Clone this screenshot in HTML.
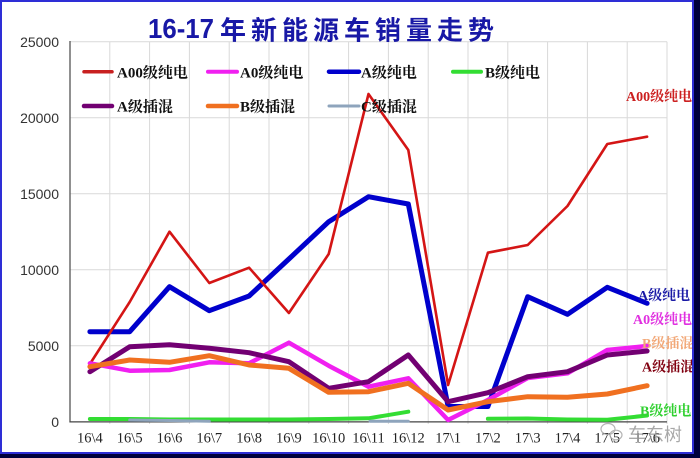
<!DOCTYPE html>
<html>
<head>
<meta charset="utf-8">
<style>
  html,body{margin:0;padding:0;background:#fff;}
  svg{display:block;}
  .yl{font-family:"Liberation Sans","Noto Sans CJK SC",sans-serif;font-size:14px;fill:#333;}
  .xl{font-family:"Liberation Serif","Noto Serif CJK SC",serif;font-size:14.5px;fill:#222;}
  .lg{font-family:"Liberation Serif","Noto Serif CJK SC",serif;font-size:15px;font-weight:bold;fill:#111;}
  .rl{font-family:"Liberation Serif","Noto Serif CJK SC",serif;font-size:14px;font-weight:bold;}
  .tt{font-family:"Liberation Sans","Noto Sans CJK SC",sans-serif;font-weight:bold;fill:#1818a6;}
</style>
</head>
<body>
<svg width="700" height="458" viewBox="0 0 700 458" xmlns="http://www.w3.org/2000/svg">
  <rect x="0" y="0" width="700" height="458" fill="#ffffff"/>

  <!-- gridlines -->
  <g stroke="#d9d9d9" stroke-width="1" fill="none">
    <line x1="70" y1="41.7" x2="667" y2="41.7"/>
    <line x1="70" y1="117.7" x2="667" y2="117.7"/>
    <line x1="70" y1="193.7" x2="667" y2="193.7"/>
    <line x1="70" y1="269.7" x2="667" y2="269.7"/>
    <line x1="70" y1="345.7" x2="667" y2="345.7"/>
    <line x1="109.8" y1="41.7" x2="109.8" y2="424"/>
    <line x1="149.6" y1="41.7" x2="149.6" y2="424"/>
    <line x1="189.4" y1="41.7" x2="189.4" y2="424"/>
    <line x1="229.2" y1="41.7" x2="229.2" y2="424"/>
    <line x1="269" y1="41.7" x2="269" y2="424"/>
    <line x1="308.8" y1="41.7" x2="308.8" y2="424"/>
    <line x1="348.6" y1="41.7" x2="348.6" y2="424"/>
    <line x1="388.4" y1="41.7" x2="388.4" y2="424"/>
    <line x1="428.2" y1="41.7" x2="428.2" y2="424"/>
    <line x1="468" y1="41.7" x2="468" y2="424"/>
    <line x1="507.8" y1="41.7" x2="507.8" y2="424"/>
    <line x1="547.6" y1="41.7" x2="547.6" y2="424"/>
    <line x1="587.4" y1="41.7" x2="587.4" y2="424"/>
    <line x1="627.2" y1="41.7" x2="627.2" y2="424"/>
    <line x1="667" y1="41.7" x2="667" y2="424"/>
  </g>
  <!-- axes -->
  <line x1="70" y1="41" x2="70" y2="422.5" stroke="#555" stroke-width="1.3"/>
  <line x1="69.5" y1="421.9" x2="667" y2="421.9" stroke="#444" stroke-width="1.3"/>

  <!-- y labels -->
  <g class="yl" text-anchor="end">
    <text x="59" y="47">25000</text>
    <text x="59" y="123">20000</text>
    <text x="59" y="199">15000</text>
    <text x="59" y="275">10000</text>
    <text x="59" y="351">5000</text>
    <text x="59" y="427">0</text>
  </g>

  <!-- x labels -->
  <g class="xl" text-anchor="middle">
    <text x="89.9" y="442.5">16\4</text>
    <text x="129.7" y="442.5">16\5</text>
    <text x="169.5" y="442.5">16\6</text>
    <text x="209.3" y="442.5">16\7</text>
    <text x="249.1" y="442.5">16\8</text>
    <text x="288.9" y="442.5">16\9</text>
    <text x="328.7" y="442.5">16\10</text>
    <text x="368.5" y="442.5">16\11</text>
    <text x="408.3" y="442.5">16\12</text>
    <text x="448.1" y="442.5">17\1</text>
    <text x="487.9" y="442.5">17\2</text>
    <text x="527.7" y="442.5">17\3</text>
    <text x="567.5" y="442.5">17\4</text>
    <text x="607.3" y="442.5">17\5</text>
    <text x="647.1" y="442.5">17\6</text>
  </g>

  <!-- series -->
  <g fill="none" stroke-linejoin="round" stroke-linecap="round">
    <!-- A级纯电 blue -->
    <polyline stroke="#0000cc" stroke-width="5" points="89.9,331.7 129.7,331.7 169.5,286.7 209.3,310.7 249.1,296 288.9,259 328.7,221.7 368.5,196.7 408.3,204 448.1,406.5 487.9,406.5 527.7,296.7 567.5,314.3 607.3,287.3 647.1,303.3"/>
    <!-- A00级纯电 red -->
    <polyline stroke="#d41515" stroke-width="2.6" points="89.9,364 129.7,302 169.5,231.7 209.3,283 249.1,267.7 288.9,313 328.7,254 368.5,94 408.3,150 448.1,385 487.9,252.7 527.7,245 567.5,206 607.3,144 647.1,136.7"/>
    <!-- B级纯电 green -->
    <polyline stroke="#33dd33" stroke-width="4" points="89.9,419 129.7,419 169.5,419.5 209.3,419.5 249.1,419.5 288.9,419.5 328.7,419 368.5,418.3 408.3,411.7"/>
    <polyline stroke="#33dd33" stroke-width="4" points="487.9,418.8 527.7,418.5 567.5,419.5 607.3,419.8 647.1,415.5"/>
    <!-- A0级纯电 magenta -->
    <polyline stroke="#f020f0" stroke-width="4.5" points="89.9,363.3 129.7,370.7 169.5,370 209.3,362.3 249.1,363.3 288.9,342.7 328.7,365.7 368.5,386.7 408.3,378.3 448.1,420 487.9,400 527.7,378 567.5,373.3 607.3,350 647.1,346"/>
    <!-- A级插混 purple -->
    <polyline stroke="#720072" stroke-width="5" points="89.9,371.7 129.7,346.7 169.5,344.7 209.3,348.3 249.1,352.7 288.9,361.7 328.7,388.3 368.5,381.7 408.3,355 448.1,401.7 487.9,392.7 527.7,376.7 567.5,371.7 607.3,355 647.1,351"/>
    <!-- B级插混 orange -->
    <polyline stroke="#f07020" stroke-width="5" points="89.9,366.7 129.7,360 169.5,362.3 209.3,355.7 249.1,365 288.9,368.3 328.7,392.3 368.5,391.7 408.3,383.3 448.1,410 487.9,401.7 527.7,396.7 567.5,397.3 607.3,394 647.1,385.7"/>
    <!-- C级插混 gray -->
    <polyline stroke="#8ea4bc" stroke-width="3" points="129.7,420 169.5,420.5 209.3,421.3"/>
    <polyline stroke="#8ea4bc" stroke-width="3" points="370,421.3 408.3,421.3"/>
  </g>

  <!-- legend -->
  <g stroke-width="4" stroke-linecap="round">
    <line x1="84" y1="71.7" x2="112" y2="71.7" stroke="#c82020" stroke-width="3.5"/>
    <line x1="208" y1="71.7" x2="237" y2="71.7" stroke="#f020f0"/>
    <line x1="329" y1="71.7" x2="359" y2="71.7" stroke="#0000cc" stroke-width="4.5"/>
    <line x1="453" y1="71.7" x2="481" y2="71.7" stroke="#33dd33"/>
    <line x1="84" y1="106" x2="112" y2="106" stroke="#720072" stroke-width="4.5"/>
    <line x1="208" y1="106" x2="237" y2="106" stroke="#f07020" stroke-width="4.5"/>
    <line x1="329" y1="106" x2="359" y2="106" stroke="#8ea4bc" stroke-width="3"/>
  </g>
  <g class="lg">
    <text x="117" y="77.5">A00级纯电</text>
    <text x="240" y="77.5">A0级纯电</text>
    <text x="361" y="77.5">A级纯电</text>
    <text x="485" y="77.5">B级纯电</text>
    <text x="117" y="111.5">A级插混</text>
    <text x="240" y="111.5">B级插混</text>
    <text x="361" y="111.5">C级插混</text>
  </g>

  <!-- right labels -->
  <g class="rl">
    <text x="626" y="101" fill="#cc2020">A00级纯电</text>
    <text x="638" y="300" fill="#1a1aa6">A级纯电</text>
    <text x="633" y="324" fill="#e030e0">A0级纯电</text>
    <text x="642" y="348" fill="#f2a878">B级插混</text>
    <text x="642" y="371.5" fill="#800010">A级插混</text>
    <text x="640" y="415.5" fill="#30d030">B级纯电</text>
  </g>

  <!-- watermark -->
  <g fill="none" stroke="#a8a8a8" stroke-width="1.2" opacity="0.85">
    <ellipse cx="608" cy="429" rx="7" ry="5.5"/>
    <ellipse cx="616" cy="435" rx="6" ry="4.8"/>
  </g>
  <text x="628" y="441" font-family="Liberation Sans, Noto Sans CJK SC, sans-serif" font-size="18" fill="#9a9a9a" opacity="0.85">车东树</text>

  <!-- title -->
  <text class="tt" x="148" y="38" font-size="28" textLength="66" lengthAdjust="spacingAndGlyphs">16-17</text>
  <text class="tt" x="220" y="39.5" font-size="26" letter-spacing="5">年新能源车销量走势</text>

  <!-- frame -->
  <rect x="0" y="0" width="700" height="2" fill="#2e2ed6"/>
  <rect x="0" y="0" width="2" height="458" fill="#2e2ed6"/>
  <rect x="692" y="0" width="2" height="454" fill="#2e2ed6"/>
  <rect x="0" y="452" width="694" height="2" fill="#2e2ed6"/>
  <rect x="694" y="0" width="6" height="458" fill="#00003c"/>
  <rect x="0" y="454" width="700" height="4" fill="#00003c"/>
</svg>
</body>
</html>
